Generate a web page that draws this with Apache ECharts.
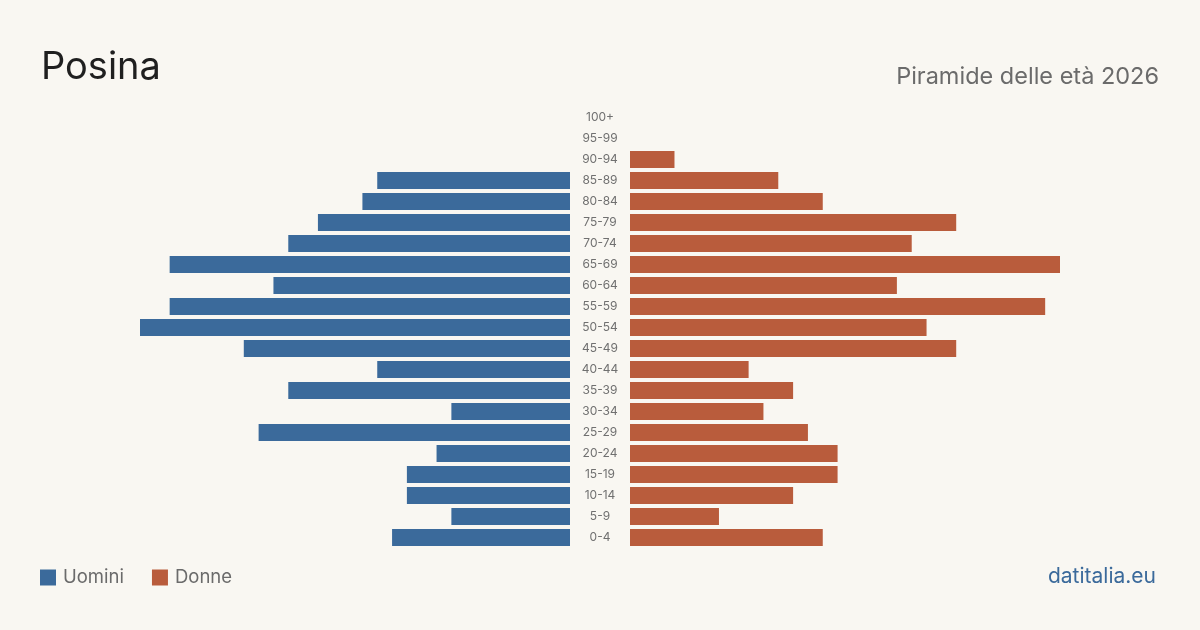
<!DOCTYPE html>
<html>
<head>
<meta charset="utf-8">
<style>
  html, body { margin: 0; padding: 0; background: #f9f7f2; }
  #main { width: 1200px; height: 630px; }
</style>
<script src="https://cdn.jsdelivr.net/npm/echarts@6/dist/echarts.min.js"></script>
</head>
<body>
<div id="main"></div>
<script>
// fasce d'età, dal basso verso l'alto
var ageGroups = ['0-4', '5-9', '10-14', '15-19', '20-24', '25-29', '30-34', '35-39', '40-44', '45-49',
  '50-54', '55-59', '60-64', '65-69', '70-74', '75-79', '80-84', '85-89', '90-94', '95-99', '100+'];
var uomini = [12, 8, 11, 11, 9, 21, 8, 19, 13, 22, 29, 27, 20, 27, 19, 17, 14, 13, 0, 0, 0];
var donne  = [13, 6, 11, 14, 14, 12, 9, 11, 8, 22, 20, 28, 18, 29, 19, 22, 13, 10, 3, 0, 0];

var maxVal = Math.max(Math.max.apply(null, uomini), Math.max.apply(null, donne));
var blue = '#3b6a9b';
var orange = '#b95c3c';
var font = 'Inter, "Liberation Sans", sans-serif';

var myChart = echarts.init(document.getElementById('main'));
var option = {
  backgroundColor: '#f9f7f2',
  animation: false,
  title: [
    { text: 'Posina', left: 36, top: 44,
      textStyle: { fontFamily: font, fontSize: 38, fontWeight: 'normal', color: '#1f1f1f' } },
    { text: 'Piramide delle età 2026', right: 36, top: 60,
      textStyle: { fontFamily: font, fontSize: 23.5, fontWeight: 'normal', color: '#6b6b6b' } },
    { text: 'datitalia.eu', right: 39, top: 561,
      textStyle: { fontFamily: font, fontSize: 21, fontWeight: 'normal', color: '#3b6a9b' } }
  ],
  legend: {
    left: 40, top: 568, padding: 0,
    icon: 'rect', itemWidth: 16, itemHeight: 16, itemGap: 28,
    textStyle: { fontFamily: font, fontSize: 18.5, color: '#6b6b6b', padding: [0, 0, 0, 2] },
    data: ['Uomini', 'Donne']
  },
  grid: [
    { left: 140, width: 430, top: 107, height: 441 },
    { left: 630, width: 430, top: 107, height: 441 }
  ],
  xAxis: [
    { gridIndex: 0, type: 'value', inverse: true, min: 0, max: maxVal, show: false },
    { gridIndex: 1, type: 'value', min: 0, max: maxVal, show: false }
  ],
  yAxis: [
    { gridIndex: 0, type: 'category', data: ageGroups, show: false },
    { gridIndex: 1, type: 'category', data: ageGroups,
      axisLine: { show: false }, axisTick: { show: false },
      axisLabel: { margin: 30, align: 'center', fontFamily: font, fontSize: 12, color: '#707070' } }
  ],
  series: [
    { name: 'Uomini', type: 'bar', xAxisIndex: 0, yAxisIndex: 0, data: uomini,
      barWidth: 17, itemStyle: { color: blue } },
    { name: 'Donne', type: 'bar', xAxisIndex: 1, yAxisIndex: 1, data: donne,
      barWidth: 17, itemStyle: { color: orange } }
  ]
};
myChart.setOption(option);
</script>
</body>
</html>
